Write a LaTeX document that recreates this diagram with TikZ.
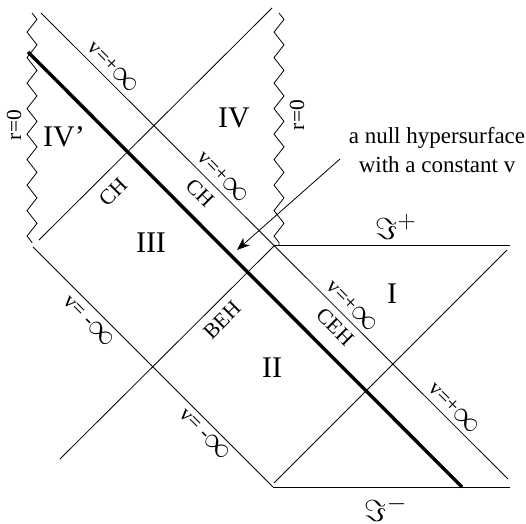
\documentclass[tikz,border=0pt]{standalone}
\usepackage{fontspec}
\setmainfont{Liberation Serif}
\usetikzlibrary{arrows.meta,decorations.pathmorphing}
\newcommand{\bigInf}{\raisebox{-0.5pt}{\scalebox{1.4}{$\infty$}}}
\newcommand{\scriSym}[1]{\scalebox{1.22}{$\Im^{#1}$}}
\begin{document}
\begin{tikzpicture}[x=1pt,y=-1pt,
  nline/.style={line width=0.8pt},
  heavy/.style={line width=3.4pt},
  zz/.style={line width=0.8pt, decorate, decoration={zigzag, segment length=25.5pt, amplitude=5pt}},
  roman/.style={font=\fontsize{30}{36}\selectfont, inner sep=0pt},
  lab/.style={font=\fontsize{21.5}{25}\selectfont, inner sep=0pt},
  ann/.style={font=\fontsize{23}{29}\selectfont, inner sep=0pt},
  scri/.style={font=\fontsize{24.88}{30}\selectfont, inner sep=0pt}]
\useasboundingbox (0,0) rectangle (526,523);
% end points
\coordinate (a1) at (41,13);   \coordinate (a2) at (508,479);
\coordinate (t1) at (28,52);   \coordinate (t2) at (462,487);
\coordinate (h1) at (39,240);  \coordinate (h2) at (272,8);
\coordinate (c1) at (33,247);  \coordinate (c2) at (273,487);
\coordinate (g1) at (60,459);  \coordinate (corner) at (275,245);
\coordinate (f1) at (507,250); \coordinate (f2) at (274,483);
\coordinate (p2) at (510,245); \coordinate (m2) at (510,487);
\coordinate (zl1) at (32,13);  \coordinate (zl2) at (32,243);
\coordinate (zr1) at (279,13); \coordinate (zr2) at (279,245);
\coordinate (ar1) at (340,159); \coordinate (ar2) at (237,250);
% lines
\draw[nline] (a1) -- (a2);
\draw[heavy] (t1) -- (t2);
\draw[nline] (h1) -- (h2);
\draw[nline] (c1) -- (c2);
\draw[nline] (g1) -- (corner);
\draw[nline] (f1) -- (f2);
\draw[nline] (corner) -- (p2);
\draw[nline] (c2) -- (m2);
\draw[zz] (zl1) -- (zl2);
\draw[zz] (zr1) -- (zr2);
\draw[nline, -{Stealth[length=13pt,width=10pt]}] (ar1) -- (ar2);
% region labels
\node[roman] (IVp) at (64,137) {IV'};
\node[roman] (IV) at (234,118) {IV};
\node[roman] (III) at (151,243) {III};
\node[roman] (II) at (272,368) {II};
\node[roman] (I) at (392,294) {I};
% line labels
\node[lab, rotate=90] (r0l) at (14,125) {r=0};
\node[lab, rotate=90] (r0r) at (297,115) {r=0};
\node[lab, rotate=-45] (vp1) at (113,67) {v=+\bigInf};
\node[lab, rotate=-45] (vp2) at (223,177) {v=+\bigInf};
\node[lab, rotate=-45] (vp3) at (352,306) {v=+\bigInf};
\node[lab, rotate=-45] (vp4) at (454,408) {v=+\bigInf};
\node[lab, rotate=-45] (vm1) at (89,321) {v= -\bigInf};
\node[lab, rotate=-45] (vm2) at (205,434) {v= -\bigInf};
\node[lab, rotate=-45] (chr) at (200,193) {CH};
\node[lab, rotate=45] (chl) at (113,192) {CH};
\node[lab, rotate=45] (beh) at (222,320) {BEH};
\node[lab, rotate=-45] (ceh) at (335,327) {CEH};
\node[scri] (sp) at (396,227) {\scriSym{+}};
\node[scri] (sm) at (386,509) {\scriSym{-}};
% annotation
\node[ann, anchor=base] (ann1) at (437,143) {a null hypersurface};
\node[ann, anchor=base] (ann2) at (437,172) {with a constant v};
\end{tikzpicture}
\end{document}
